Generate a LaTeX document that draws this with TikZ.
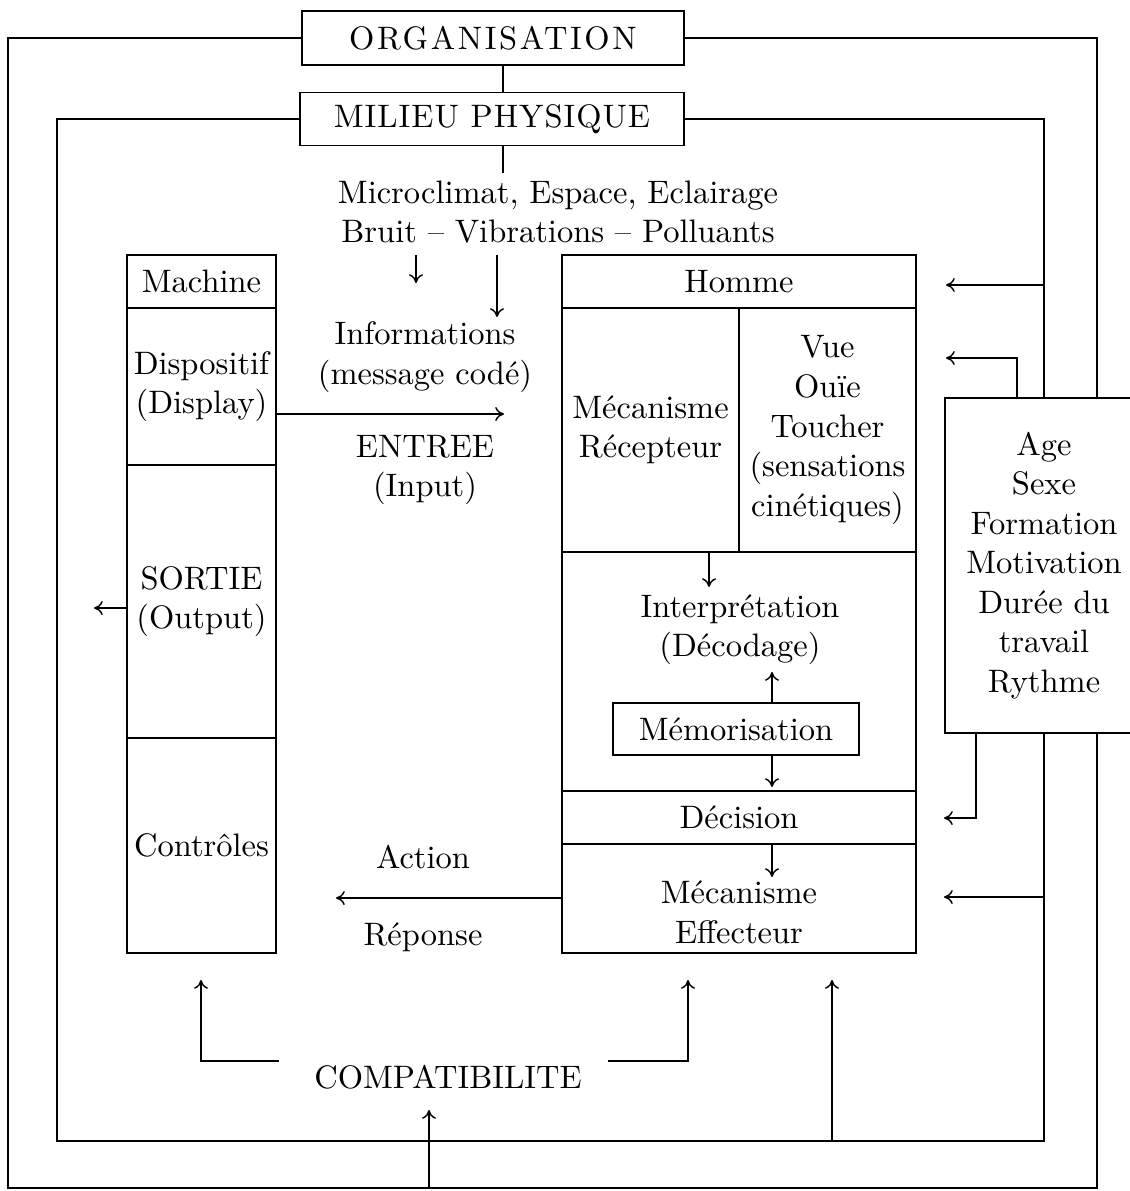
\documentclass[tikz,border=0pt]{standalone}
\usepackage{fontspec}
\setmainfont{lmroman10-regular.otf}
\usetikzlibrary{positioning,arrows.meta}

\begin{document}
\begin{tikzpicture}[x=0.02cm,y=-0.02cm,
		font=\fontsize{18.5}{22.5}\selectfont,
		boite/.style={rectangle,draw,line width=0.8pt,outer sep=0pt,inner sep=2pt,align=center},
		texte/.style={align=center,inner sep=2pt},
		trait/.style={line width=0.8pt},
		fleche/.style={arrows={-To[length=5pt,width=8pt]},line width=0.8pt}]
		\useasboundingbox (0,0) rectangle (1130,1191);
		\clip (0,0) rectangle (1130,1191);

		% boucles organisation et milieu
		\node[boite,minimum width=7.64cm,minimum height=1.08cm] (organisation)
			at (493,38) {\addfontfeatures{LetterSpace=8}ORGANISATION};
		\node[boite,minimum width=7.68cm,minimum height=1.06cm] (milieu)
			at (492,119) {\addfontfeatures{LetterSpace=3}MILIEU PHYSIQUE};

		\coordinate (og) at (8,38);
		\coordinate (od) at (1097,38);
		\coordinate (ob) at (8,1188);
		\coordinate (mg) at (57,119);
		\coordinate (md) at (1044,119);
		\coordinate (mb) at (57,1141);
		\coordinate (axe) at (503,173);

		\draw[trait] (organisation.west) -- (og) -- (ob) -- (od |- ob) -- (od) -- (organisation.east);
		\draw[trait] (milieu.west) -- (mg) -- (mb) -- (md |- mb) -- (md) -- (milieu.east);
		\draw[trait] (organisation.south -| axe) -- (milieu.north -| axe);
		\draw[trait] (milieu.south -| axe) -- (axe);

		\node[texte] (ambiance) at (558,212)
			{Microclimat, Espace, Eclairage\\Bruit -- Vibrations -- Polluants};

		% machine
		\node[boite,minimum width=2.98cm,minimum height=1.06cm] (machine)
			at (201.5,281.5) {Machine};
		\node[boite,minimum width=2.98cm,minimum height=3.14cm,below=0pt of machine] (dispositif)
			{Dispositif\\(Display)};
		\node[boite,minimum width=2.98cm,minimum height=5.46cm,below=0pt of dispositif] (sortie)
			{SORTIE\\(Output)};
		\node[boite,minimum width=2.98cm,minimum height=4.3cm,below=0pt of sortie] (controles)
			{Contrôles};

		% homme
		\node[boite,minimum width=7.08cm,minimum height=1.06cm] (homme)
			at (739,281.5) {Homme};
		\node[boite,minimum width=3.54cm,minimum height=4.88cm,below right=0pt and 0pt of homme.south west] (recepteur)
			{Mécanisme\\Récepteur};
		\node[boite,minimum width=3.54cm,minimum height=4.88cm,right=0pt of recepteur] (sens)
			{Vue\\Ouïe\\Toucher\\(sensations\\cinétiques)};
		\node[boite,minimum width=7.08cm,minimum height=4.78cm,below=0pt of recepteur.south east] (interpretation) {};
		\node[boite,minimum width=7.08cm,minimum height=1.06cm,below=0pt of interpretation] (decision)
			{Décision};
		\node[boite,minimum width=7.08cm,minimum height=2.18cm,below=0pt of decision] (effecteur) {};

		\node[texte] (decodage) at (740,629.5) {Interprétation\\(Décodage)};
		\node[boite,minimum width=4.92cm,minimum height=1.04cm] (memorisation)
			at (736,729) {Mémorisation};
		\node[texte] (mecanisme) at (739,912.5) {Mécanisme\\Effecteur};

		\coordinate (f3) at (709,587);
		\coordinate (f4) at (772,672);
		\coordinate (f5) at (772,787);
		\coordinate (f6) at (772,877);
		\draw[fleche] (f3 |- recepteur.south) -- (f3);
		\draw[fleche] (f4 |- memorisation.north) -- (f4);
		\draw[fleche] (f5 |- memorisation.south) -- (f5);
		\draw[fleche] (f6 |- decision.south) -- (f6);

		% entre les deux
		\coordinate (f1) at (416,283);
		\coordinate (f2) at (497,317);
		\draw[fleche] (f1 |- machine.north) -- (f1);
		\draw[fleche] (f2 |- machine.north) -- (f2);

		\node[texte] (infos) at (425,357) {Informations\\(message codé)};
		\node[texte] (input) at (425,470) {ENTREE\\(Input)};
		\coordinate (entree) at (504,414);
		\draw[fleche] (entree -| dispositif.east) -- (entree);

		\coordinate (sortant) at (94,608);
		\draw[fleche] (sortant -| sortie.west) -- (sortant);

		\node[texte] (action) at (423,857) {Action};
		\node[texte] (reponse) at (423,937) {Réponse};
		\coordinate (retour) at (336,898);
		\draw[fleche] (retour -| effecteur.west) -- (retour);

		% facteurs individuels
		\node[boite,fill=white,minimum width=3.96cm,minimum height=6.7cm] (facteurs)
			at (1044,565.5) {Age\\Sexe\\Formation\\Motivation\\Durée du\\travail\\Rythme};

		\coordinate (e1) at (946,285);
		\coordinate (e2) at (1017,358);
		\coordinate (e2b) at (946,358);
		\coordinate (e3) at (976,818);
		\coordinate (e3b) at (944,818);
		\coordinate (e4) at (944,897);
		\draw[fleche] (e1 -| md) -- (e1);
		\draw[fleche] (e2 |- facteurs.north) -- (e2) -- (e2b);
		\draw[fleche] (e3 |- facteurs.south) -- (e3) -- (e3b);
		\draw[fleche] (e4 -| md) -- (e4);

		% compatibilite
		\node[texte] (compatibilite) at (448,1077) {COMPATIBILITE};
		\coordinate (h1) at (279,1061);
		\coordinate (h2) at (608,1061);
		\coordinate (c1) at (201,980);
		\coordinate (c2) at (688,980);
		\coordinate (c3) at (832,980);
		\coordinate (c4) at (429,1110);
		\draw[fleche] (h1) -| (c1);
		\draw[fleche] (h2) -| (c2);
		\draw[fleche] (c3 |- mb) -- (c3);
		\draw[fleche] (c4 |- ob) -- (c4);
	\end{tikzpicture}
\end{document}
